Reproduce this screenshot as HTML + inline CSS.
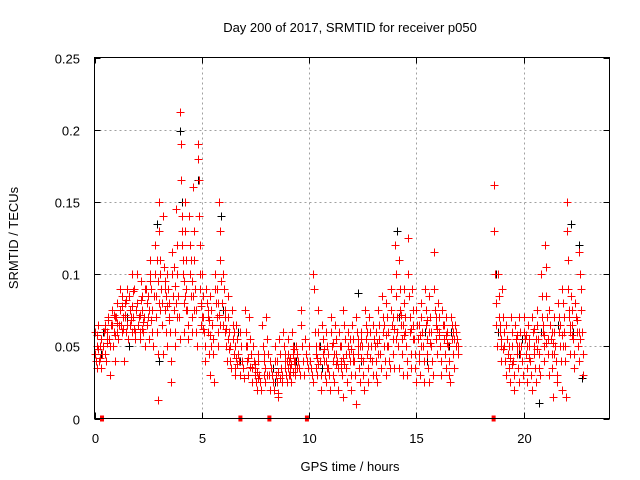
<!DOCTYPE html>
<html><head><meta charset="utf-8"><style>
html,body{margin:0;padding:0;background:#fff;}
svg{display:block;font-family:"Liberation Sans",sans-serif;}
</style></head><body>
<svg id="chart" width="640" height="480" viewBox="0 0 640 480">
<text x="350" y="32" font-size="13" text-anchor="middle">Day 200 of 2017, SRMTID for receiver p050</text>
<g id="grid"></g>
<g id="ticks"></g>
<g id="black"></g>
<g id="red"></g>
<g id="gaps"></g>
<rect x="94.5" y="57.5" width="515" height="361" fill="none" stroke="#000" stroke-width="1"/>
<text x="350" y="471" font-size="13" text-anchor="middle">GPS time / hours</text>
<text x="18" y="238" font-size="13" text-anchor="middle" transform="rotate(-90 18 238)">SRMTID / TECUs</text>
</svg>
<script>
const xTicks=[0,5,10,15,20];
const yTicks=[0,0.05,0.1,0.15,0.2,0.25];
const yTickLabels=["0","0.05","0.1","0.15","0.2","0.25"];
const gapTimes=[0.35,6.8,8.15,9.9,18.6];
const redBins=[
[0.0,[.06,.045,.04,.035,.05,.065]],[0.2,[.04,.05,.055,.035,.045]],[0.4,[.05,.06,.065,.045,.04,.055]],
[0.6,[.06,.07,.055,.03,.05,.065]],[0.8,[.065,.075,.05,.06,.04,.07]],[1.0,[.07,.08,.06,.055,.065,.09]],
[1.2,[.075,.065,.085,.06,.07,.04]],[1.4,[.08,.07,.06,.065,.09,.055]],[1.6,[.085,.075,.065,.07,.06,.1]],
[1.8,[.07,.09,.06,.055,.075,.1]],[2.0,[.08,.065,.07,.06,.055,.095]],[2.2,[.075,.085,.06,.07,.05,.09]],
[2.4,[.09,.08,.065,.07,.055,.1]],[2.6,[.11,.09,.075,.06,.05,.085]],[2.8,[.12,.1,.085,.07,.06,.045,.013]],
[3.0,[.15,.13,.11,.1,.09,.08,.065,.045]],[3.2,[.14,.105,.09,.075,.06,.05]],[3.4,[.1,.09,.08,.07,.06,.04,.025]],
[3.6,[.115,.1,.085,.075,.06,.05]],[3.8,[.145,.12,.1,.085,.07,.055]],[4.0,[.212,.19,.165,.14,.12,.1,.08,.06]],
[4.2,[.15,.13,.11,.09,.075,.065,.055]],[4.4,[.14,.12,.1,.085,.07,.06]],[4.6,[.16,.13,.11,.09,.075,.06,.05]],
[4.8,[.19,.18,.165,.14,.12,.1,.08,.065]],[5.0,[.1,.085,.07,.06,.05,.04]],[5.2,[.09,.08,.07,.06,.045,.03]],
[5.4,[.085,.075,.065,.055,.045,.025]],[5.6,[.1,.09,.08,.07,.06,.05]],[5.8,[.15,.13,.11,.095,.08,.065]],
[6.0,[.1,.09,.075,.06,.05,.04]],[6.2,[.085,.07,.06,.05,.04,.035]],[6.4,[.075,.065,.055,.045,.035,.03]],
[6.6,[.065,.055,.045,.04,.03]],[6.8,[.06,.05,.04,.035,.028]],[7.0,[.075,.06,.05,.04,.03]],
[7.2,[.07,.055,.045,.035,.025]],[7.4,[.05,.04,.035,.03,.025,.02]],[7.6,[.045,.04,.03,.025,.02]],
[7.8,[.065,.05,.04,.03,.025]],[8.0,[.07,.055,.045,.03,.02]],[8.2,[.04,.035,.03,.025,.02]],
[8.4,[.05,.04,.03,.025,.018,.015]],[8.6,[.055,.045,.035,.03,.025]],[8.8,[.06,.05,.04,.035,.03,.025]],
[9.0,[.055,.045,.04,.035,.03,.025]],[9.2,[.06,.05,.045,.04,.035,.03]],[9.4,[.05,.045,.04,.035,.03]],
[9.6,[.075,.065,.05,.04,.03]],[9.8,[.055,.045,.04,.035]],[10.0,[.05,.04,.035,.03,.025]],
[10.2,[.1,.09,.06,.045,.035,.03]],[10.4,[.075,.06,.05,.04,.03,.02]],[10.6,[.065,.055,.045,.04,.03,.025]],
[10.8,[.06,.05,.045,.035,.03,.02]],[11.0,[.07,.06,.05,.04,.03,.025]],[11.2,[.065,.055,.045,.04,.035,.02]],
[11.4,[.06,.05,.04,.035,.03,.015]],[11.6,[.075,.065,.055,.045,.035,.025]],[11.8,[.06,.05,.045,.04,.03,.02]],
[12.0,[.065,.055,.045,.04,.03,.01]],[12.2,[.07,.06,.05,.045,.035,.025]],[12.4,[.06,.055,.05,.04,.03,.02]],
[12.6,[.075,.065,.055,.045,.035,.025]],[12.8,[.07,.06,.05,.04,.03]],[13.0,[.065,.055,.05,.04,.03,.025]],
[13.2,[.075,.065,.055,.045,.035]],[13.4,[.085,.07,.06,.05,.04,.03]],[13.6,[.08,.07,.06,.05,.04,.035]],
[13.8,[.09,.075,.065,.055,.045,.035]],[14.0,[.12,.1,.085,.07,.06,.05,.035]],[14.2,[.11,.09,.075,.065,.055,.045,.03]],
[14.4,[.09,.08,.07,.06,.05,.04,.03]],[14.6,[.125,.1,.085,.07,.06,.045,.035]],[14.8,[.09,.075,.065,.055,.045,.035,.025]],
[15.0,[.075,.065,.055,.045,.04,.03]],[15.2,[.08,.07,.06,.05,.04,.025]],[15.4,[.09,.075,.065,.055,.045,.035,.025]],
[15.6,[.085,.07,.06,.05,.04,.03]],[15.8,[.115,.09,.075,.065,.055,.045]],[16.0,[.08,.07,.06,.05,.04,.03]],
[16.2,[.075,.065,.055,.045,.035]],[16.4,[.07,.06,.05,.04,.03,.025]],[16.6,[.07,.065,.055,.045,.035]],
[16.8,[.065,.06,.055,.05,.045]],
[18.6,[.162,.13,.1,.08,.065,.05]],[18.8,[.1,.085,.07,.06,.05,.04]],[19.0,[.09,.07,.06,.05,.04,.03]],
[19.2,[.065,.055,.045,.035,.025]],[19.4,[.07,.06,.05,.04,.03,.02]],[19.6,[.065,.055,.05,.045,.035,.025]],
[19.8,[.07,.06,.05,.04,.03]],[20.0,[.07,.06,.055,.045,.035,.025]],[20.2,[.065,.055,.05,.04,.03,.02]],
[20.4,[.07,.06,.05,.045,.035,.025]],[20.6,[.075,.065,.055,.045,.035,.03]],[20.8,[.1,.085,.07,.06,.05,.04]],
[21.0,[.12,.105,.085,.07,.055,.045,.03]],[21.2,[.075,.065,.055,.045,.035,.015]],[21.4,[.07,.06,.05,.04,.03,.025]],
[21.6,[.08,.07,.06,.05,.04,.02]],[21.8,[.09,.08,.07,.06,.05,.04,.015]],[22.0,[.15,.13,.11,.09,.075,.06,.045]],
[22.2,[.085,.075,.065,.055,.045,.035]],[22.4,[.08,.07,.06,.05,.04]],[22.6,[.115,.1,.09,.075,.06,.045,.03]]
];
const redBinsExtra=[
[0.1,[.058,.048,.042]],[0.5,[.062,.052,.068]],[0.9,[.072,.058,.066]],[1.3,[.078,.062,.072,.082]],
[1.7,[.068,.078,.088,.062]],[2.1,[.072,.082,.062,.067]],[2.5,[.085,.075,.095,.068]],
[2.9,[.11,.095,.08,.075]],[3.3,[.095,.085,.078,.068]],[3.7,[.105,.092,.08,.07]],
[4.1,[.13,.11,.095,.085,.075]],[4.5,[.11,.095,.085,.075]],[4.9,[.09,.078,.07,.062]],
[5.3,[.075,.068,.058,.05]],[5.7,[.09,.08,.072,.065]],[6.1,[.07,.062,.055,.048]],
[6.5,[.06,.05,.042,.038]],[7.1,[.05,.042,.036]],[7.5,[.038,.032,.028]],[7.9,[.045,.035,.03]],
[8.5,[.04,.032,.028]],[8.9,[.045,.04,.035,.03]],[9.1,[.042,.038,.032]],[9.3,[.048,.04,.035]],
[10.3,[.05,.042,.038]],[10.7,[.048,.04,.035]],[11.1,[.052,.045,.038]],[11.5,[.05,.042,.038]],
[11.9,[.055,.048,.04]],[12.3,[.055,.05,.042]],[12.7,[.06,.05,.042]],[13.1,[.06,.052,.045]],
[13.5,[.065,.058,.05]],[13.9,[.07,.062,.055]],[14.3,[.072,.065,.058]],[14.7,[.07,.062,.055]],
[15.1,[.065,.058,.05]],[15.5,[.068,.06,.052]],[15.9,[.07,.062,.058]],[16.3,[.065,.058,.052]],
[16.7,[.06,.055,.05]],[18.9,[.065,.055,.048]],[19.3,[.05,.042,.038]],[19.7,[.058,.05,.045]],
[20.1,[.058,.05,.042]],[20.5,[.062,.055,.048]],[20.9,[.065,.058,.052]],[21.3,[.06,.052,.045]],
[21.7,[.065,.058,.05]],[22.1,[.07,.065,.058]],[22.5,[.068,.06,.055]]
];
const blackBins=[
[0.3,[.045,.06]],[1.5,[.07,.05]],[2.9,[.135,.04]],[4.0,[.199,.15,.1]],[4.8,[.165,.09]],
[5.9,[.14,.075]],[6.7,[.06,.04]],[8.3,[.035,.025]],[9.3,[.05,.04]],[10.5,[.05,.035]],
[12.3,[.087,.04]],[14.1,[.13,.07]],[15.4,[.06,.04]],[16.5,[.05,.06]],[18.7,[.1,.06]],
[19.8,[.045,.055]],[20.7,[.011,.06]],[21.5,[.04,.065]],[22.2,[.135,.06]],[22.6,[.12,.028]]
];
const X0=94.5,X1=609.5,Y0=418.5,Y1=57.5;
function xs(t){return X0+(t/24)*(X1-X0);}
function ys(v){return Y0-(v/0.25)*(Y0-Y1);}
const NS="http://www.w3.org/2000/svg";
function mk(tag,attrs,parent){const e=document.createElementNS(NS,tag);for(const k in attrs)e.setAttribute(k,attrs[k]);parent.appendChild(e);return e;}
const grid=document.getElementById('grid'),ticks=document.getElementById('ticks');
xTicks.forEach(t=>{
  const x=Math.round(xs(t))+0.5;
  if(t>0){const g=mk('line',{x1:x,x2:x,y1:Y1,y2:Y0,stroke:'#a0a0a0','stroke-dasharray':'2,3'},grid);
  
  }
  const tk=mk('path',{d:`M${x},${Y0}v-6M${x},${Y1}v6`,stroke:'#000'},ticks);
  
  
  const lb=mk('text',{x:x,y:443,'font-size':13,'text-anchor':'middle'},ticks);lb.textContent=String(t);
  
  
});
yTicks.forEach((v,i)=>{
  const y=Math.round(ys(v))+0.5;
  if(v>0&&v<0.25){const g=mk('line',{x1:X0,x2:X1,y1:y,y2:y,stroke:'#a0a0a0','stroke-dasharray':'2,3'},grid);
  
  }
  const tk=mk('path',{d:`M${X0},${y}h6M${X1},${y}h-6`,stroke:'#000'},ticks);
  
  
  const lb=mk('text',{x:80,y:y+5,'font-size':13,'text-anchor':'end'},ticks);lb.textContent=yTickLabels[i];
  
  
});
function drawBins(bins,gid,color,name){
  const g=document.getElementById(gid);let d='';
  bins.forEach(b=>{const n=b[1].length;b[1].forEach((v,i)=>{
    const x=Math.round(xs(b[0]+0.2*i/n))+0.5,y=Math.round(ys(v))+0.5;
    d+=`M${x-4},${y}h8M${x},${y-4}v8`;});});
  const p=mk('path',{d:d,stroke:color,'stroke-width':1,fill:'none'},g);
  
  
}
drawBins(blackBins,'black','#000','black-points');
drawBins(redBins,'red','#ff0000','red-points');
drawBins(redBinsExtra,'red','#ff0000','red-points-extra');
const gaps=document.getElementById('gaps');
gapTimes.forEach(t=>{
  const r=mk('rect',{x:xs(t)-2,y:Y0-3,width:4,height:6,fill:'#ff0000'},gaps);
  
  
});
</script>
</body></html>
